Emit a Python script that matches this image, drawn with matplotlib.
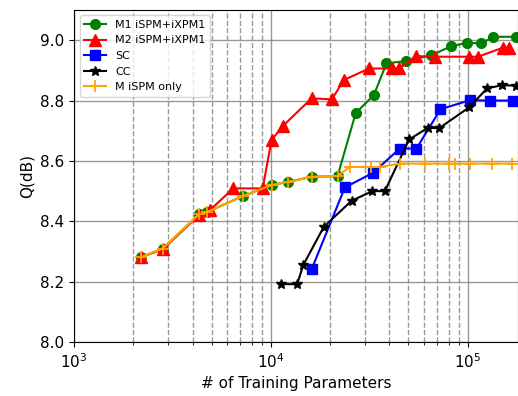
import matplotlib
matplotlib.use("Agg")
import matplotlib.pyplot as plt

# M1 iSPM+iXPM1
m1_x = [2200, 2820, 4310, 4750, 7230, 10080, 12240, 16090, 21810, 26990, 33340,
        38650, 48840, 65410, 82660, 99200, 117400, 134400, 176600]
m1_y = [8.282, 8.310, 8.423, 8.431, 8.484, 8.52, 8.531, 8.547, 8.55, 8.759, 8.818,
        8.923, 8.931, 8.95, 8.98, 8.991, 8.989, 9.011, 9.011]

# M2 iSPM+iXPM1
m2_x = [2200, 2820, 4310, 4900, 6440, 9080, 10080, 11470, 16090, 20400, 23480,
        31550, 41010, 44780, 54900, 68000, 101500, 112800, 151000, 162100]
m2_y = [8.282, 8.307, 8.42, 8.437, 8.509, 8.509, 8.669, 8.715, 8.807, 8.804, 8.868,
        8.906, 8.906, 8.906, 8.947, 8.945, 8.945, 8.945, 8.975, 8.975]

# SC
sc_x = [16090, 23750, 33040, 45190, 54900, 72670, 102400, 130100, 169200]
sc_y = [8.241, 8.512, 8.561, 8.641, 8.641, 8.771, 8.801, 8.80, 8.80]

# CC
cc_x = [11200, 13600, 14590, 18580, 25680, 32810, 37910, 50360, 62520, 71840,
        101500, 125300, 149600, 176600]
cc_y = [8.192, 8.192, 8.255, 8.382, 8.468, 8.50, 8.50, 8.671, 8.709, 8.709,
        8.777, 8.84, 8.851, 8.849]

# M iSPM only
mi_x = [2200, 2820, 4310, 4750, 7230, 10080, 12240, 16090, 21810, 25180, 32180,
        35730, 45440, 60490, 80270, 85900, 102400, 133200, 167600]
mi_y = [8.282, 8.310, 8.423, 8.431, 8.484, 8.52, 8.531, 8.547, 8.55, 8.58, 8.58,
        8.58, 8.591, 8.591, 8.591, 8.591, 8.591, 8.591, 8.591]

fig = plt.figure(figsize=(5.18, 3.96), dpi=100)
ax = fig.add_axes([0.143, 0.136, 0.857, 0.839])

ax.plot(m1_x, m1_y, '-o', color='green', lw=1.5, ms=7, label='M1 iSPM+iXPM1')
ax.plot(m2_x, m2_y, '-^', color='red', lw=1.5, ms=8, label='M2 iSPM+iXPM1')
ax.plot(sc_x, sc_y, '-s', color='blue', lw=1.5, ms=7, label='SC')
ax.plot(cc_x, cc_y, '-*', color='black', lw=1.5, ms=7, label='CC')
ax.plot(mi_x, mi_y, '-+', color='orange', lw=1.5, ms=8, mew=1.3, label='M iSPM only')

ax.set_xscale('log')
ax.set_xlim(1000, 180000)
ax.set_ylim(8.0, 9.1)
ax.set_yticks([8.0, 8.2, 8.4, 8.6, 8.8, 9.0])
ax.grid(True, which='major', color='gray', lw=1, alpha=0.8)
ax.grid(True, which='minor', axis='x', color='gray', ls='--', lw=1, alpha=0.8)
ax.tick_params(labelsize=11)
ax.set_xlabel('# of Training Parameters', fontsize=11)
ax.set_ylabel('Q(dB)', fontsize=11)
ax.legend(loc='upper left', fontsize=8)

plt.savefig('out.png')
